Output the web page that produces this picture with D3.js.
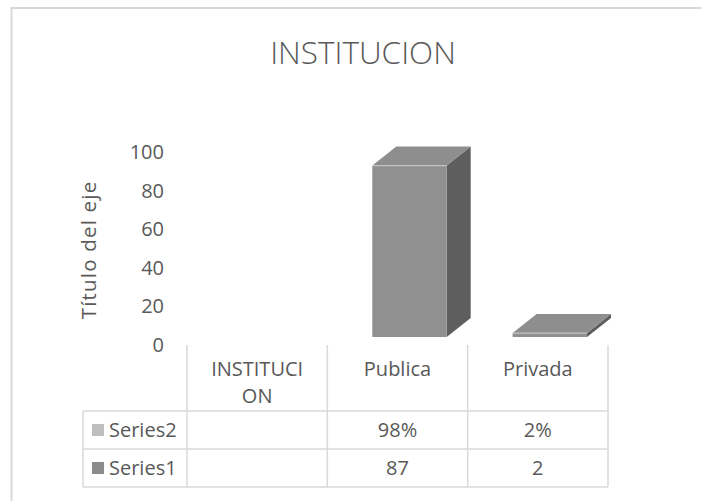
<!DOCTYPE html>
<html>
<head>
<meta charset="utf-8">
<script src="https://cdn.jsdelivr.net/npm/d3@7"></script>
<style>
  body { margin: 0; background: #fff; }
  text { font-family: "Open Sans", "Liberation Sans", sans-serif; fill: #595959; }
</style>
</head>
<body>
<div id="chart"></div>
<script>
// data
var categories = ["INSTITUCION", "Publica", "Privada"];
var categoryLines = [["INSTITUCI", "ON"], ["Publica"], ["Privada"]];
var seriesNames = ["Series2", "Series1"];
var series1 = [null, 87, 2];
var series2 = [null, 0.98, 0.02];
var yTicks = [0, 20, 40, 60, 80, 100];
var seriesColors = ["#bfbfbf", "#8c8c8c"];

var width = 701, height = 501;
var lineColor = "#d9d9d9";
var fontSize = "20px";

var svg = d3.select("#chart").append("svg")
    .attr("width", width)
    .attr("height", height);

svg.append("rect").attr("width", width).attr("height", height).attr("fill", "#fff");

// chart border (only top and left are inside the picture)
svg.append("path")
    .attr("d", "M11.5," + height + "V8H" + width)
    .attr("fill", "none")
    .attr("stroke", lineColor)
    .attr("stroke-width", 2);

// title
svg.append("text")
    .attr("x", 363)
    .attr("y", 64)
    .attr("text-anchor", "middle")
    .style("font-size", "31.5px")
    .style("font-weight", 300)
    .text("INSTITUCION");

// scales
var x = d3.scaleBand().domain(categories).range([187, 608]).padding(0);
var yLabel = d3.scaleLinear().domain([0, 100]).range([345, 152]);
var yFront = d3.scaleLinear().domain([0, 100]).range([337, 140]);

var depth = {dx: 24, dy: -19};
var barW = x.bandwidth() * 0.53;

// y axis labels
var yAxis = svg.append("g")
    .attr("class", "y axis")
    .attr("transform", "translate(165,0)")
    .call(d3.axisLeft(yLabel).tickValues(yTicks).tickSize(0).tickPadding(1));
yAxis.select(".domain").remove();
yAxis.selectAll("text")
    .style("font-size", fontSize)
    .style("font-family", "'Open Sans', sans-serif")
    .attr("fill", "#595959");

svg.append("text")
    .attr("transform", "translate(89," + 250 + ") rotate(-90)")
    .attr("dy", "0.35em")
    .attr("text-anchor", "middle")
    .style("font-size", "20.5px")
    .style("letter-spacing", "1.2px")
    .text("Título del eje");

// 3D bars for Series1
var bars = svg.append("g").attr("class", "bars")
    .selectAll("g")
    .data(categories.map(function(c, i) { return {cat: c, v: series1[i]}; })
        .filter(function(d) { return d.v != null; }))
    .enter().append("g");

function x0(d) { return x(d.cat) + x.bandwidth() / 2 + depth.dx / 2 - barW / 2; }

bars.append("path")
    .attr("fill", "#5e5e5e")
    .attr("d", function(d) {
        var xr = x0(d) + barW, yt = yFront(d.v), yb = yFront(0);
        return "M" + xr + "," + yt + "L" + (xr + depth.dx) + "," + (yt + depth.dy) +
            "L" + (xr + depth.dx) + "," + (yb + depth.dy) + "L" + xr + "," + yb + "Z";
    });

bars.append("path")
    .attr("fill", "#8e8e8e")
    .attr("d", function(d) {
        var xl = x0(d), xr = xl + barW, yt = yFront(d.v);
        return "M" + xl + "," + yt + "L" + (xl + depth.dx) + "," + (yt + depth.dy) +
            "L" + (xr + depth.dx) + "," + (yt + depth.dy) + "L" + xr + "," + yt + "Z";
    });

bars.append("rect")
    .attr("x", x0)
    .attr("y", function(d) { return yFront(d.v); })
    .attr("width", barW)
    .attr("height", function(d) { return yFront(0) - yFront(d.v); })
    .attr("fill", "#909090");

bars.append("line")
    .attr("x1", x0)
    .attr("x2", function(d) { return x0(d) + barW; })
    .attr("y1", function(d) { return yFront(d.v); })
    .attr("y2", function(d) { return yFront(d.v); })
    .attr("stroke", "#c4c4c4")
    .attr("stroke-width", 1.2);

// data table
var tableTop = 345, rowTop = 411, rowH = 38, tableLeft = 83;
var tableBottom = rowTop + rowH * seriesNames.length;
var table = svg.append("g").attr("class", "table");

var colEdges = [x.range()[0]].concat(categories.map(function(c) { return x(c) + x.bandwidth(); }));
table.selectAll(".vline")
    .data(colEdges)
    .enter().append("line")
    .attr("x1", function(d) { return d; })
    .attr("x2", function(d) { return d; })
    .attr("y1", tableTop)
    .attr("y2", tableBottom)
    .attr("stroke", lineColor)
    .attr("stroke-width", 1.5);

table.append("line")
    .attr("x1", tableLeft).attr("x2", tableLeft)
    .attr("y1", rowTop).attr("y2", tableBottom)
    .attr("stroke", lineColor).attr("stroke-width", 1.5);

table.selectAll(".hline")
    .data(d3.range(seriesNames.length + 1))
    .enter().append("line")
    .attr("x1", tableLeft)
    .attr("x2", x.range()[1])
    .attr("y1", function(i) { return rowTop + i * rowH; })
    .attr("y2", function(i) { return rowTop + i * rowH; })
    .attr("stroke", lineColor)
    .attr("stroke-width", 1.5);

// category labels
table.selectAll(".cat")
    .data(categories)
    .enter().append("text")
    .attr("text-anchor", "middle")
    .attr("x", function(c) { return x(c) + x.bandwidth() / 2; })
    .attr("y", 376)
    .style("font-size", fontSize)
    .each(function(c, i) {
        var t = d3.select(this);
        categoryLines[i].forEach(function(s, k) {
            t.append("tspan")
                .attr("x", x(c) + x.bandwidth() / 2)
                .attr("dy", k === 0 ? 0 : 27)
                .text(s);
        });
    });

// rows
var pct = d3.format(".0%");
var rows = [
    {name: seriesNames[0], color: seriesColors[0], values: series2.map(function(v) { return v == null ? "" : pct(v); })},
    {name: seriesNames[1], color: seriesColors[1], values: series1.map(function(v) { return v == null ? "" : String(v); })}
];

rows.forEach(function(r, i) {
    var cy = rowTop + i * rowH + rowH / 2;
    table.append("rect")
        .attr("x", 92).attr("y", cy - 6)
        .attr("width", 12).attr("height", 12)
        .attr("fill", r.color);
    table.append("text")
        .attr("x", 109).attr("y", cy).attr("dy", "0.35em")
        .style("font-size", fontSize)
        .text(r.name);
    table.selectAll(".val" + i)
        .data(categories)
        .enter().append("text")
        .attr("text-anchor", "middle")
        .attr("x", function(c) { return x(c) + x.bandwidth() / 2; })
        .attr("y", cy).attr("dy", "0.35em")
        .style("font-size", fontSize)
        .text(function(c, j) { return r.values[j]; });
});
</script>
</body>
</html>
